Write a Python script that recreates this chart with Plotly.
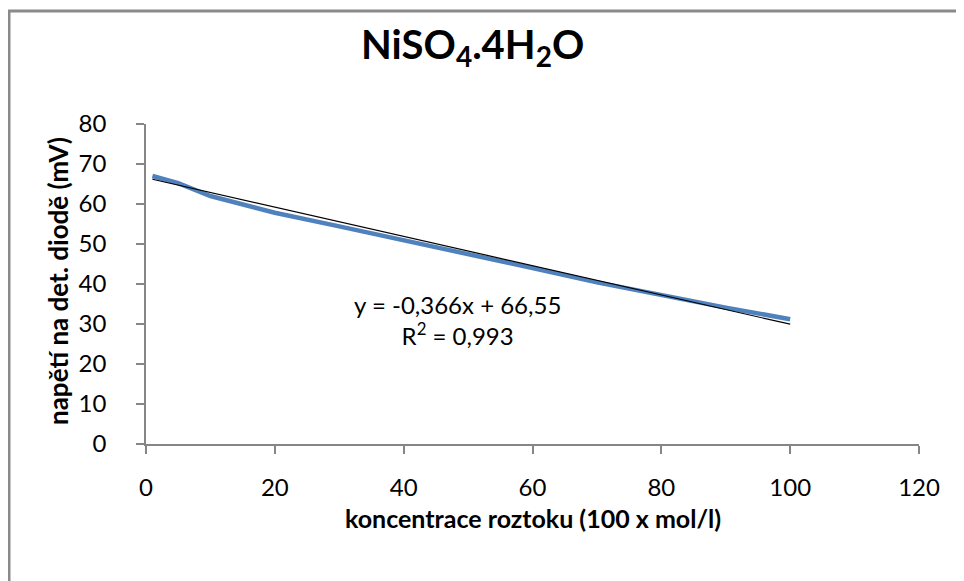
import plotly.graph_objects as go

# Data
conc = [1, 5, 10, 20, 30, 40, 50, 60, 70, 80, 90, 100]
voltage = [67.0, 65.2, 62.0, 57.8, 54.4, 51.0, 47.4, 44.0, 40.4, 37.2, 34.1, 31.2]
slope = -0.366
intercept = 66.55
trend_x = [min(conc), max(conc)]
trend_y = [slope * x + intercept for x in trend_x]

x_ticks = [0, 20, 40, 60, 80, 100, 120]
y_ticks = [0, 10, 20, 30, 40, 50, 60, 70, 80]

FONT = "Lato, Carlito, Calibri, sans-serif"
AXIS_COLOR = "#868686"

# the page body has an 8px margin; the figure is sized so it fits the window
OFF = 8
FIG_W, FIG_H = 964 - OFF, 581 - OFF
# plot-area geometry in window pixels (used to place the frame and titles)
L, R, T, B = 146, 919, 124, 444
W, H = R - L, B - T
def px(x):
    return (x - L) / W
def py(y):
    return (B - y) / H

fig = go.Figure()
fig.add_trace(go.Scatter(x=conc, y=voltage, mode="lines",
                         line=dict(color="#4F81BD", width=4.5),
                         showlegend=False, hoverinfo="x+y"))
fig.add_trace(go.Scatter(x=trend_x, y=trend_y, mode="lines",
                         line=dict(color="black", width=1.2),
                         showlegend=False, hoverinfo="skip"))

fig.add_annotation(x=px(457), y=py(320), xref="paper", yref="paper",
                   text="y = -0,366x + 66,55<br>R<sup>2</sup> = 0,993",
                   showarrow=False, align="center",
                   font=dict(family=FONT, size=24, color="black"))

# chart title
fig.add_annotation(x=px(472), y=py(47), xref="paper", yref="paper",
                   text="<b>NiSO<sub>4</sub>.4H<sub>2</sub>O</b>",
                   showarrow=False, xanchor="center", yanchor="middle",
                   font=dict(family=FONT, size=40, color="black"))
# axis titles
fig.add_annotation(x=px(533), y=py(518), xref="paper", yref="paper",
                   text="<b>koncentrace roztoku (100 x mol/l)</b>",
                   showarrow=False, xanchor="center", yanchor="middle",
                   font=dict(family=FONT, size=25, color="black"))
fig.add_annotation(x=px(58), y=py(281), xref="paper", yref="paper",
                   text="<b>napětí na det. diodě (mV)</b>", textangle=-90,
                   showarrow=False, xanchor="center", yanchor="middle",
                   font=dict(family=FONT, size=26, color="black"))

# outer chart border (top and left visible)
fig.add_shape(type="rect", xref="paper", yref="paper",
              x0=px(9), x1=px(1000), y0=py(620), y1=py(11),
              line=dict(color="#8a8a8a", width=3), fillcolor="rgba(0,0,0,0)",
              layer="below")

fig.update_layout(
    width=FIG_W, height=FIG_H,
    margin=dict(l=L - OFF, r=FIG_W - (R - OFF), t=T - OFF, b=FIG_H - (B - OFF),
                autoexpand=False),
    paper_bgcolor="white", plot_bgcolor="white",
    font=dict(family=FONT, color="black"),
)

fig.update_xaxes(range=[0, 120], tickvals=x_ticks, ticktext=[str(v) for v in x_ticks],
                 showgrid=False, zeroline=False, showline=True, automargin=False,
                 linecolor=AXIS_COLOR, linewidth=1.5,
                 ticks="outside", ticklen=8, tickcolor=AXIS_COLOR, tickwidth=1.5,
                 tickfont=dict(family=FONT, size=24, color="black"),
                 ticklabelstandoff=13)
fig.update_yaxes(range=[0, 80], tickvals=y_ticks, ticktext=[str(v) for v in y_ticks],
                 showgrid=False, zeroline=False, showline=True, automargin=False,
                 linecolor=AXIS_COLOR, linewidth=1.5,
                 ticks="outside", ticklen=8, tickcolor=AXIS_COLOR, tickwidth=1.5,
                 tickfont=dict(family=FONT, size=24, color="black"),
                 ticklabelstandoff=25)

fig.write_html("out.html")
